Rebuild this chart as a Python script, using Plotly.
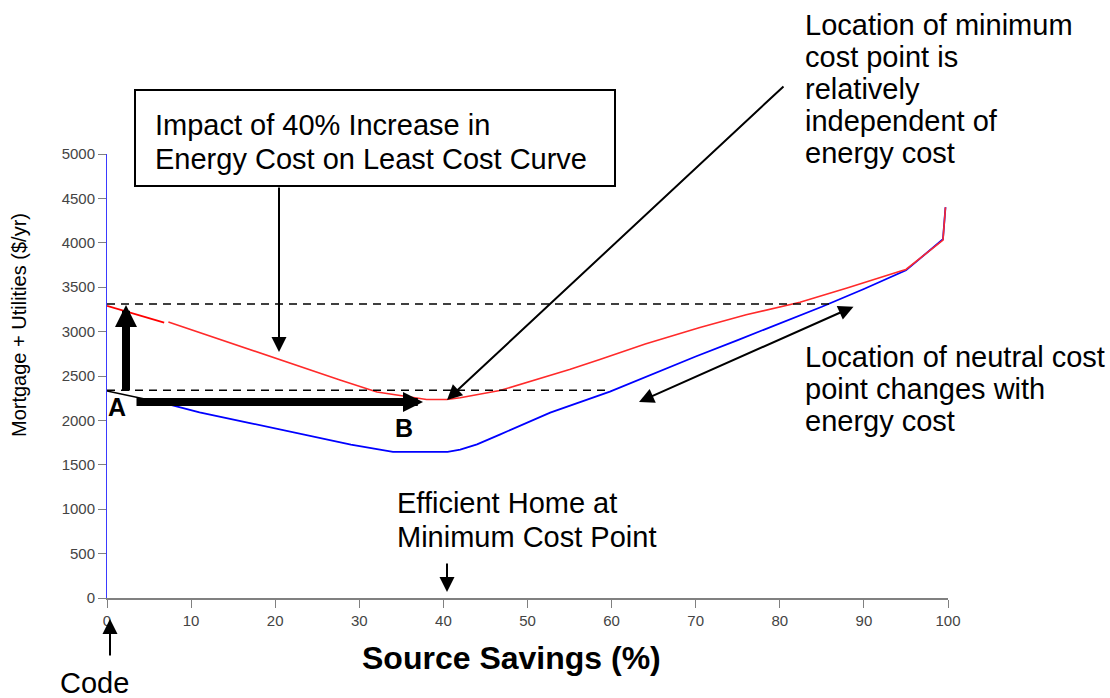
import plotly.graph_objects as go

# ---------------- data ----------------
# Baseline least-cost curve (current energy cost)
base_x = [0, 7, 11, 17, 23, 29, 34, 40.5, 42, 44, 46.7, 52.7, 59.8, 65, 70, 75, 80, 85, 90, 95, 99.4, 99.7]
base_y = [2330, 2190, 2090, 1970, 1850, 1727, 1645, 1645, 1670, 1730, 1840, 2088, 2325, 2530, 2720, 2905, 3095, 3280, 3480, 3690, 4040, 4400]

# Least-cost curve with 40% higher energy cost
high_x1 = [0, 6.8]
high_y1 = [3290, 3100]
high_x2 = [7.3, 13, 20.6, 27.7, 32.1, 36.9, 38, 40.4, 42, 46.7, 55, 58.6, 64, 70.5, 76, 82.4, 88, 94.3, 95, 99.4, 99.7]
high_y2 = [3108, 2925, 2680, 2455, 2320, 2250, 2235, 2235, 2255, 2336, 2573, 2686, 2860, 3047, 3190, 3330, 3490, 3680, 3700, 4030, 4400]

# Reference (code home) cost levels and the extent of their dashed guides
ref_levels = [3310, 2340]
ref_ends = [86, 59.5]

x_ticks = [0, 10, 20, 30, 40, 50, 60, 70, 80, 90, 100]
y_ticks = [0, 500, 1000, 1500, 2000, 2500, 3000, 3500, 4000, 4500, 5000]

# ---------------- layout geometry (pixels) ----------------
W, H = 1110, 698
L, R, T, B = 107, 948, 154, 598
FONT = "Liberation Sans, Arial, sans-serif"


def px(xp):
    return (xp - L) / (R - L)


def py(yp):
    return (B - yp) / (B - T)


fig = go.Figure()

# curves
n_code = 2
fig.add_trace(go.Scatter(x=base_x[:n_code], y=base_y[:n_code], mode="lines",
                         line=dict(color="black", width=1.5), hoverinfo="skip"))
fig.add_trace(go.Scatter(x=base_x[n_code - 1:], y=base_y[n_code - 1:], mode="lines",
                         line=dict(color="#0000ff", width=1.8), hoverinfo="skip"))
fig.add_trace(go.Scatter(x=high_x1, y=high_y1, mode="lines",
                         line=dict(color="#ff0000", width=1.8), hoverinfo="skip"))
fig.add_trace(go.Scatter(x=high_x2, y=high_y2, mode="lines",
                         line=dict(color="#ff2a2a", width=1.6), hoverinfo="skip"))

for lvl, end in zip(ref_levels, ref_ends):
    fig.add_trace(go.Scatter(x=[0, end], y=[lvl, lvl], mode="lines",
                             line=dict(color="black", width=1.5, dash="8px,6px"),
                             hoverinfo="skip"))

annotations = []


def text(s, xp, baseline, size=29, bold=False, anchor="left"):
    t = f"<b>{s}</b>" if bold else s
    annotations.append(dict(
        text=t, xref="paper", yref="paper", x=px(xp), y=py(baseline - 0.3465 * size),
        xanchor=anchor, yanchor="middle", showarrow=False,
        font=dict(family=FONT, size=size, color="black")))


def arrow(tail, tip, width=2, size=1.5, head=2, both=False):
    d = dict(text="", xref="paper", yref="paper", x=px(tip[0]), y=py(tip[1]),
             axref="pixel", ayref="pixel", ax=tail[0] - tip[0], ay=tail[1] - tip[1],
             showarrow=True, arrowhead=head, arrowwidth=width, arrowsize=size,
             arrowcolor="black", standoff=0)
    if both:
        d.update(arrowside="end+start", startarrowhead=head, startarrowsize=size, startstandoff=0)
    annotations.append(d)


# box text
text("Impact of 40% Increase in", 153, 135)
text("Energy Cost on Least Cost Curve", 153, 169)
# minimum cost text
for i, s in enumerate(["Location of minimum", "cost point is", "relatively",
                       "independent of", "energy cost"]):
    text(s, 803, 35 + 32 * i)
# neutral cost text
for i, s in enumerate(["Location of neutral cost", "point changes with", "energy cost"]):
    text(s, 803, 367 + 32 * i)
# efficient home
text("Efficient Home at", 395, 513)
text("Minimum Cost Point", 395, 547)
# code
text("Code", 94, 693, anchor="center")
# A / B
text("A", 117, 416, size=25, bold=True, anchor="center")
text("B", 404, 437, size=25, bold=True, anchor="center")
# axis titles
text("Source Savings (%)", 511, 669, size=32, bold=True, anchor="center")
annotations.append(dict(text="Mortgage + Utilities ($/yr)", xref="paper", yref="paper",
                        x=px(19), y=py(325), xanchor="center", yanchor="middle",
                        textangle=-90, showarrow=False,
                        font=dict(family=FONT, size=20, color="black")))

# arrows
arrow((279, 186), (279, 352))
arrow((785, 85), (447, 400))
arrow((855, 306), (639, 402), both=True)
arrow((447, 562), (447, 592))
arrow((110, 657), (110, 619))
arrow((126, 392), (126, 305), width=8, size=0.55)
arrow((135, 402), (423, 402), width=8, size=0.5)

shapes = [dict(type="rect", xref="paper", yref="paper",
               x0=px(135), x1=px(615), y0=py(186), y1=py(90),
               line=dict(color="black", width=2), fillcolor="rgba(0,0,0,0)")]

fig.update_layout(
    width=W, height=H,
    margin=dict(l=L, r=W - R, t=T, b=H - B, pad=0),
    paper_bgcolor="white", plot_bgcolor="white",
    showlegend=False,
    annotations=annotations, shapes=shapes,
    xaxis=dict(range=[0, 100], tickvals=x_ticks, ticktext=[str(v) for v in x_ticks],
               showgrid=False, zeroline=False, showline=True, linecolor="#808080", linewidth=2,
               ticks="outside", ticklen=8, tickcolor="#808080", tickwidth=1,
               tickfont=dict(family=FONT, size=15, color="#444")),
    yaxis=dict(range=[0, 5000], tickvals=y_ticks, ticktext=[str(v) for v in y_ticks],
               showgrid=False, zeroline=False, showline=True, linecolor="#3a3aff", linewidth=1,
               ticks="outside", ticklen=8, tickcolor="#808080", tickwidth=1,
               tickfont=dict(family=FONT, size=15, color="#444")),
)

fig.write_html("out.html", config={"displayModeBar": False},
               post_script="document.body.style.margin='0';")
